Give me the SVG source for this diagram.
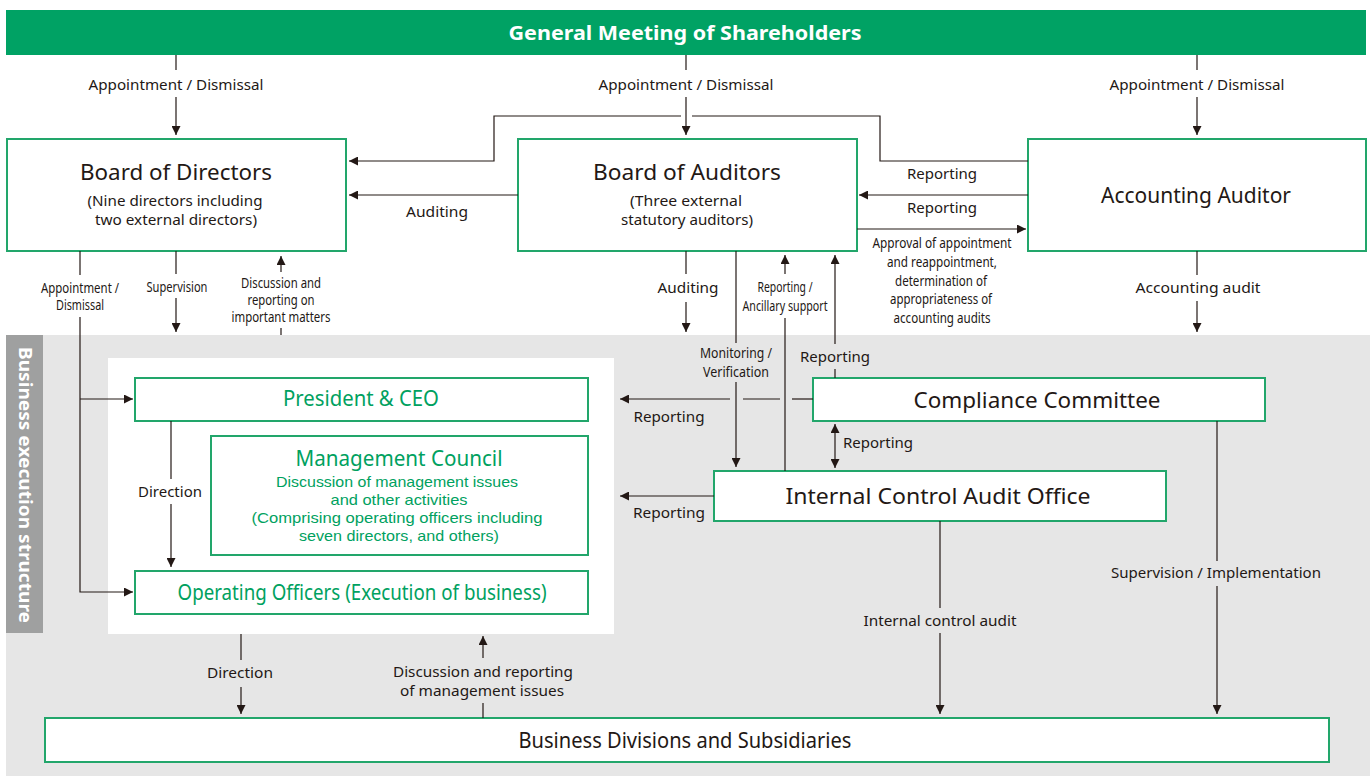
<svg xmlns="http://www.w3.org/2000/svg" width="1370" height="776" viewBox="0 0 1370 776">
  <style>
    .t { font-family: "Noto Sans", "Liberation Sans", sans-serif; fill: #231815; text-anchor: middle; dominant-baseline: central; }
    .s15 { font-size: 15px; }
    .s14 { font-size: 14px; }
    .s16 { font-family: "Liberation Sans", "Noto Sans", sans-serif; font-size: 15px; }
    .s21 { font-size: 21px; }
    .s22 { font-size: 22px; }
    .g { fill: #00a160; }
    .box { fill: #ffffff; stroke: #22a66b; stroke-width: 2; }
    .ln { fill: none; stroke: #231815; stroke-width: 1.2; }
  </style>
  <defs>
    <marker id="ah" viewBox="0 0 10 10" refX="10" refY="5" markerWidth="9" markerHeight="9" markerUnits="userSpaceOnUse" orient="auto-start-reverse">
      <path d="M0,0 L10,5 L0,10 Z" fill="#231815"/>
    </marker>
  </defs>

  <!-- backgrounds -->
  <rect x="0" y="0" width="1370" height="776" fill="#ffffff"/>
  <rect x="6" y="335" width="1364" height="441" fill="#e6e6e6"/>
  <rect x="6" y="335" width="37" height="298" fill="#9fa0a0"/>
  <text class="t" transform="translate(25,485) rotate(90)" style="font-size:17px;font-weight:bold;fill:#ffffff" textLength="276" lengthAdjust="spacingAndGlyphs">Business execution structure</text>
  <rect x="108" y="358" width="506" height="276" fill="#ffffff"/>

  <!-- nodes -->
  <g id="general-meeting">
    <rect x="6" y="10" width="1360" height="45" fill="#00a264"/>
    <text class="t" x="685" y="32" style="font-size:20px;font-weight:bold;fill:#ffffff" textLength="353" lengthAdjust="spacingAndGlyphs">General Meeting of Shareholders</text>
  </g>

  <g id="board-of-directors">
    <rect class="box" x="7" y="139" width="339" height="112"/>
    <text class="t s22" x="176" y="171" textLength="192" lengthAdjust="spacingAndGlyphs">Board of Directors</text>
    <text class="t s15" x="175" y="200" textLength="175" lengthAdjust="spacingAndGlyphs">(Nine directors including</text>
    <text class="t s15" x="176" y="219" textLength="162" lengthAdjust="spacingAndGlyphs">two external directors)</text>
  </g>

  <g id="board-of-auditors">
    <rect class="box" x="518" y="139" width="339" height="112"/>
    <text class="t s22" x="687" y="171" textLength="188" lengthAdjust="spacingAndGlyphs">Board of Auditors</text>
    <text class="t s15" x="686" y="200" textLength="112" lengthAdjust="spacingAndGlyphs">(Three external</text>
    <text class="t s15" x="687" y="219" textLength="132" lengthAdjust="spacingAndGlyphs">statutory auditors)</text>
  </g>

  <g id="accounting-auditor">
    <rect class="box" x="1028" y="139" width="338" height="112"/>
    <text class="t s21" x="1196" y="195" textLength="190" lengthAdjust="spacingAndGlyphs">Accounting Auditor</text>
  </g>

  <g id="president-ceo">
    <rect class="box" x="135" y="378" width="453" height="43"/>
    <text class="t s21 g" x="361" y="398" textLength="156" lengthAdjust="spacingAndGlyphs">President &amp; CEO</text>
  </g>

  <g id="management-council">
    <rect class="box" x="211" y="436" width="377" height="119"/>
    <text class="t s21 g" x="399" y="458" textLength="207" lengthAdjust="spacingAndGlyphs">Management Council</text>
    <text class="t s16 g" x="397" y="481" textLength="242" lengthAdjust="spacingAndGlyphs">Discussion of management issues</text>
    <text class="t s16 g" x="399" y="499" textLength="137" lengthAdjust="spacingAndGlyphs">and other activities</text>
    <text class="t s16 g" x="397" y="517" textLength="291" lengthAdjust="spacingAndGlyphs">(Comprising operating officers including</text>
    <text class="t s16 g" x="399" y="535" textLength="200" lengthAdjust="spacingAndGlyphs">seven directors, and others)</text>
  </g>

  <g id="operating-officers">
    <rect class="box" x="135" y="571" width="453" height="43"/>
    <text class="t s21 g" x="362" y="592" textLength="369" lengthAdjust="spacingAndGlyphs">Operating Officers (Execution of business)</text>
  </g>

  <g id="compliance-committee">
    <rect class="box" x="813" y="378" width="452" height="43"/>
    <text class="t s22" x="1037" y="399" textLength="247" lengthAdjust="spacingAndGlyphs">Compliance Committee</text>
  </g>

  <g id="internal-control-audit-office">
    <rect class="box" x="714" y="471" width="452" height="50"/>
    <text class="t s22" x="938" y="495" textLength="305" lengthAdjust="spacingAndGlyphs">Internal Control Audit Office</text>
  </g>

  <g id="business-divisions">
    <rect class="box" x="45" y="718" width="1284" height="44"/>
    <text class="t s21" x="685" y="740" textLength="333" lengthAdjust="spacingAndGlyphs">Business Divisions and Subsidiaries</text>
  </g>

  <!-- connectors -->
  <g id="connectors">
    <!-- appointment / dismissal from the general meeting -->
    <path class="ln" d="M176,55 V70"/>
    <path class="ln" d="M176,97 V135" marker-end="url(#ah)"/>
    <path class="ln" d="M686,55 V70"/>
    <path class="ln" d="M686,97 V135" marker-end="url(#ah)"/>
    <path class="ln" d="M1197,55 V70"/>
    <path class="ln" d="M1197,97 V135" marker-end="url(#ah)"/>

    <!-- accounting auditor reporting to the board of directors -->
    <path class="ln" d="M1028,161 H880 V116 H692"/>
    <path class="ln" d="M681,116 H494 V161 H349" marker-end="url(#ah)"/>

    <!-- auditing / reporting between the boards -->
    <path class="ln" d="M518,195 H349" marker-end="url(#ah)"/>
    <path class="ln" d="M1028,195 H859" marker-end="url(#ah)"/>
    <path class="ln" d="M857,229 H1026" marker-end="url(#ah)"/>

    <!-- board of directors down to execution -->
    <path class="ln" d="M80,251 V275"/>
    <path class="ln" d="M80,317 V592 H133" marker-end="url(#ah)"/>
    <path class="ln" d="M80,399 H133" marker-end="url(#ah)"/>
    <path class="ln" d="M176,251 V274"/>
    <path class="ln" d="M176,298 V332" marker-end="url(#ah)"/>
    <path class="ln" d="M281,272 V256" marker-end="url(#ah)"/>
    <path class="ln" d="M281,328 V335"/>

    <!-- board of auditors down -->
    <path class="ln" d="M686,251 V274"/>
    <path class="ln" d="M686,302 V332" marker-end="url(#ah)"/>
    <path class="ln" d="M736,251 V343"/>
    <path class="ln" d="M736,382 V467" marker-end="url(#ah)"/>
    <path class="ln" d="M785,471 V318"/>
    <path class="ln" d="M785,274 V255" marker-end="url(#ah)"/>
    <path class="ln" d="M835,378 V369"/>
    <path class="ln" d="M835,344 V255" marker-end="url(#ah)"/>

    <!-- accounting audit -->
    <path class="ln" d="M1197,251 V275"/>
    <path class="ln" d="M1197,301 V332" marker-end="url(#ah)"/>

    <!-- compliance committee and internal control audit office -->
    <path class="ln" d="M835,424 V468" marker-start="url(#ah)" marker-end="url(#ah)"/>
    <path class="ln" d="M813,399 H792"/>
    <path class="ln" d="M780,399 H743"/>
    <path class="ln" d="M730,399 H620" marker-end="url(#ah)"/>
    <path class="ln" d="M714,496 H620" marker-end="url(#ah)"/>

    <!-- direction inside management -->
    <path class="ln" d="M171,421 V479"/>
    <path class="ln" d="M171,504 V567" marker-end="url(#ah)"/>

    <!-- down to business divisions -->
    <path class="ln" d="M1217,421 V561"/>
    <path class="ln" d="M1217,586 V714" marker-end="url(#ah)"/>
    <path class="ln" d="M940,521 V608"/>
    <path class="ln" d="M940,633 V714" marker-end="url(#ah)"/>
    <path class="ln" d="M241,634 V660"/>
    <path class="ln" d="M241,687 V714" marker-end="url(#ah)"/>
    <path class="ln" d="M483,718 V703"/>
    <path class="ln" d="M483,658 V636" marker-end="url(#ah)"/>

    <!-- connector labels -->
    <text class="t s15" x="176" y="84" textLength="175" lengthAdjust="spacingAndGlyphs">Appointment / Dismissal</text>
    <text class="t s15" x="686" y="84" textLength="175" lengthAdjust="spacingAndGlyphs">Appointment / Dismissal</text>
    <text class="t s15" x="1197" y="84" textLength="175" lengthAdjust="spacingAndGlyphs">Appointment / Dismissal</text>
    <text class="t s15" x="437" y="211" textLength="62" lengthAdjust="spacingAndGlyphs">Auditing</text>
    <text class="t s15" x="942" y="173" textLength="70" lengthAdjust="spacingAndGlyphs">Reporting</text>
    <text class="t s15" x="942" y="207" textLength="70" lengthAdjust="spacingAndGlyphs">Reporting</text>
    <text class="t s14" x="942" y="242" textLength="139" lengthAdjust="spacingAndGlyphs">Approval of appointment</text>
    <text class="t s14" x="942" y="261" textLength="110" lengthAdjust="spacingAndGlyphs">and reappointment,</text>
    <text class="t s14" x="941" y="280" textLength="92" lengthAdjust="spacingAndGlyphs">determination of</text>
    <text class="t s14" x="941" y="298" textLength="102" lengthAdjust="spacingAndGlyphs">appropriateness of</text>
    <text class="t s14" x="942" y="317" textLength="97" lengthAdjust="spacingAndGlyphs">accounting audits</text>
    <text class="t s14" x="80" y="287" textLength="78" lengthAdjust="spacingAndGlyphs">Appointment /</text>
    <text class="t s14" x="80" y="304" textLength="48" lengthAdjust="spacingAndGlyphs">Dismissal</text>
    <text class="t s14" x="177" y="286" textLength="61" lengthAdjust="spacingAndGlyphs">Supervision</text>
    <text class="t s14" x="281" y="282" textLength="80" lengthAdjust="spacingAndGlyphs">Discussion and</text>
    <text class="t s14" x="281" y="299" textLength="67" lengthAdjust="spacingAndGlyphs">reporting on</text>
    <text class="t s14" x="281" y="316" textLength="99" lengthAdjust="spacingAndGlyphs">important matters</text>
    <text class="t s15" x="688" y="287" textLength="61" lengthAdjust="spacingAndGlyphs">Auditing</text>
    <text class="t s14" x="785" y="286" textLength="55" lengthAdjust="spacingAndGlyphs">Reporting /</text>
    <text class="t s14" x="785" y="305" textLength="85" lengthAdjust="spacingAndGlyphs">Ancillary support</text>
    <text class="t s15" x="1198" y="287" textLength="125" lengthAdjust="spacingAndGlyphs">Accounting audit</text>
    <text class="t s14" x="736" y="352" textLength="72" lengthAdjust="spacingAndGlyphs">Monitoring /</text>
    <text class="t s14" x="736" y="371" textLength="66" lengthAdjust="spacingAndGlyphs">Verification</text>
    <text class="t s15" x="835" y="356" textLength="70" lengthAdjust="spacingAndGlyphs">Reporting</text>
    <text class="t s15" x="669" y="416" textLength="71" lengthAdjust="spacingAndGlyphs">Reporting</text>
    <text class="t s15" x="878" y="442" textLength="70" lengthAdjust="spacingAndGlyphs">Reporting</text>
    <text class="t s15" x="669" y="512" textLength="72" lengthAdjust="spacingAndGlyphs">Reporting</text>
    <text class="t s15" x="170" y="491" textLength="64" lengthAdjust="spacingAndGlyphs">Direction</text>
    <text class="t s15" x="1216" y="572" textLength="210" lengthAdjust="spacingAndGlyphs">Supervision / Implementation</text>
    <text class="t s15" x="940" y="620" textLength="153" lengthAdjust="spacingAndGlyphs">Internal control audit</text>
    <text class="t s15" x="240" y="672" textLength="66" lengthAdjust="spacingAndGlyphs">Direction</text>
    <text class="t s15" x="483" y="671" textLength="180" lengthAdjust="spacingAndGlyphs">Discussion and reporting</text>
    <text class="t s15" x="482" y="690" textLength="164" lengthAdjust="spacingAndGlyphs">of management issues</text>
  </g>
</svg>
